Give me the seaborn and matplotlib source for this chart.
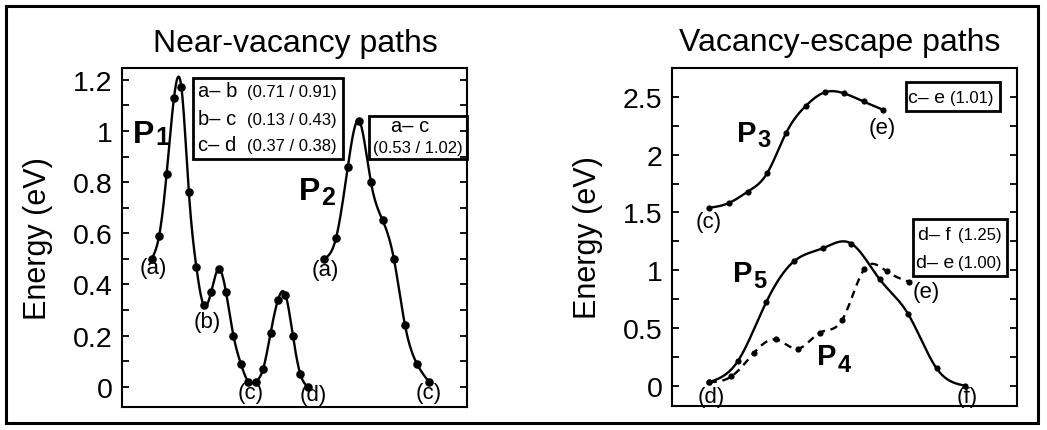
import numpy as np
import pandas as pd
import matplotlib
matplotlib.use("Agg")
import matplotlib.pyplot as plt
import seaborn as sns
from matplotlib.patches import Rectangle
from matplotlib.ticker import MultipleLocator

# ---------------- data ----------------
# Near-vacancy paths (reaction coordinate in image units)
p1_x = [0, 1, 2, 3, 4, 5, 6, 7, 8, 9, 10, 11, 12, 13, 14, 15, 16, 17, 18, 19, 20, 21]
p1_E = [0.50, 0.59, 0.83, 1.13, 1.17, 0.76, 0.47, 0.32, 0.37, 0.46, 0.37,
        0.20, 0.09, 0.02, 0.02, 0.07, 0.21, 0.34, 0.36, 0.20, 0.05, 0.00]
p2_x = [23.2, 24.8, 26.4, 27.9, 29.5, 31.1, 32.6, 34.1, 35.7, 37.3]
p2_E = [0.50, 0.58, 0.86, 1.04, 0.80, 0.65, 0.50, 0.24, 0.09, 0.02]

# Vacancy-escape paths
p3_x = [0, 0.68, 1.36, 2.04, 2.71, 3.39, 4.07, 4.75, 5.43, 6.10]
p3_E = [1.54, 1.58, 1.68, 1.84, 2.19, 2.42, 2.54, 2.53, 2.46, 2.39]
p5_x = [0, 1, 2, 3, 4, 5, 6, 7, 8, 9]
p5_E = [0.03, 0.21, 0.72, 1.08, 1.19, 1.23, 0.92, 0.62, 0.15, 0.00]
p4_x = [0, 0.78, 1.56, 2.34, 3.12, 3.90, 4.68, 5.46, 6.24, 7.02]
p4_E = [0.03, 0.08, 0.28, 0.40, 0.32, 0.46, 0.57, 1.01, 0.99, 0.90]

left_ticks = [0, 0.2, 0.4, 0.6, 0.8, 1.0, 1.2]
left_ticklabels = ["0", "0.2", "0.4", "0.6", "0.8", "1", "1.2"]
right_ticks = [0, 0.5, 1.0, 1.5, 2.0, 2.5]
right_ticklabels = ["0", "0.5", "1", "1.5", "2", "2.5"]

left_title = "Near-vacancy paths"
right_title = "Vacancy-escape paths"
ylabel = "Energy (eV)"

box1_pairs = ["a\u2013 b", "b\u2013 c", "c\u2013 d"]
box1_vals = ["(0.71 / 0.91)", "(0.13 / 0.43)", "(0.37 / 0.38)"]
box2_pair = "a\u2013 c"
box2_val = "(0.53 / 1.02)"
box3_pair = "c\u2013 e"
box3_val = "(1.01)"
box4_pairs = ["d\u2013 f", "d\u2013 e"]
box4_vals = ["(1.25)", "(1.00)"]

# ---------------- style ----------------
sns.set_theme(style="white")
plt.rcParams["font.family"] = ["Liberation Sans", "DejaVu Sans"]
plt.rcParams["axes.linewidth"] = 1.5


def smooth(x, y, n=400):
    """Natural cubic spline through the points, for drawing a smooth line."""
    x = np.asarray(x, float)
    y = np.asarray(y, float)
    m = len(x)
    h = np.diff(x)
    A = np.zeros((m, m))
    r = np.zeros(m)
    A[0, 0] = 1
    A[-1, -1] = 1
    for i in range(1, m - 1):
        A[i, i - 1] = h[i - 1]
        A[i, i] = 2 * (h[i - 1] + h[i])
        A[i, i + 1] = h[i]
        r[i] = 6 * ((y[i + 1] - y[i]) / h[i] - (y[i] - y[i - 1]) / h[i - 1])
    M = np.linalg.solve(A, r)
    xf = np.linspace(x[0], x[-1], n)
    idx = np.clip(np.searchsorted(x, xf) - 1, 0, m - 2)
    x0, x1 = x[idx], x[idx + 1]
    hh = x1 - x0
    yf = (M[idx] * (x1 - xf) ** 3 / (6 * hh) + M[idx + 1] * (xf - x0) ** 3 / (6 * hh)
          + (y[idx] / hh - M[idx] * hh / 6) * (x1 - xf)
          + (y[idx + 1] / hh - M[idx + 1] * hh / 6) * (xf - x0))
    return xf, yf


def draw_path(ax, x, y, size, dashed=False):
    xf, yf = smooth(x, y)
    ls = (0, (3.2, 2.4)) if dashed else "-"
    sns.lineplot(x=xf, y=yf, ax=ax, color="black", linewidth=1.7,
                 linestyle=ls, estimator=None, sort=False)
    sns.scatterplot(x=x, y=y, ax=ax, color="black", s=size, linewidth=0, zorder=3)


def style_axes(ax, ticks, labels, minor):
    ax.set_yticks(ticks)
    ax.set_yticklabels(labels)
    ax.yaxis.set_minor_locator(MultipleLocator(minor))
    ax.set_xticks([])
    ax.tick_params(axis="y", which="both", direction="in", left=True, right=True,
                   length=5, width=1.3, color="black", labelsize=20.5, pad=7,
                   labelcolor="black")
    for s in ax.spines.values():
        s.set_color("black")
        s.set_linewidth(1.5)
    ax.set_xlabel("")
    ax.set_ylabel(ylabel, fontsize=22, color="black", labelpad=14)


def label(ax, x, y, t, fs=16):
    ax.text(x, y, t, ha="center", va="center", fontsize=fs, color="black")


def pname(ax, x, y, xs, ys, digit, fs, fs2):
    ax.text(x, y, "P", fontsize=fs, fontweight="bold", ha="left", va="baseline", color="black")
    ax.text(xs, ys, digit, fontsize=fs2, fontweight="bold", ha="left", va="baseline", color="black")


def box(ax, x0, y0, x1, y1):
    ax.add_patch(Rectangle((x0, y0), x1 - x0, y1 - y0, transform=ax.transAxes,
                           fill=False, lw=2.0, ec="black", clip_on=False, zorder=5))


W, H = 1047, 431
fig = plt.figure(figsize=(W / 100, H / 100), dpi=100)
fig.patch.set_facecolor("white")

axL = fig.add_axes([122 / W, (H - 408) / H, 345 / W, 339 / H])
axR = fig.add_axes([672 / W, (H - 407) / H, 345 / W, 338 / H])

# ---------------- left panel ----------------
draw_path(axL, p1_x, p1_E, 38)
draw_path(axL, p2_x, p2_E, 38)
axL.set_xlim(-4.0, 42.44)
axL.set_ylim(-0.079, 1.246)
style_axes(axL, left_ticks, left_ticklabels, 0.1)

label(axL, 0.17, 0.467, "(a)")
label(axL, 7.44, 0.257, "(b)")
label(axL, 13.36, -0.021, "(c)")
label(axL, 21.7, -0.032, "(d)")
label(axL, 23.33, 0.46, "(a)")
label(axL, 37.3, -0.021, "(c)")
pname(axL, -2.52, 0.957, 0.55, 0.949, "1", 23, 18)
pname(axL, 19.83, 0.734, 22.75, 0.714, "2", 23, 18)

box(axL, 0.206, 0.7316, 0.641, 0.9705)
for yb, pr, vl in zip([0.918, 0.835, 0.759], box1_pairs, box1_vals):
    axL.text(0.2203, yb, pr, transform=axL.transAxes, fontsize=14.5, ha="left", va="baseline", color="black")
    axL.text(0.3623, yb, vl, transform=axL.transAxes, fontsize=12, ha="left", va="baseline", color="black")
box(axL, 0.716, 0.7316, 1.0, 0.858)
axL.text(0.835, 0.815, box2_pair, transform=axL.transAxes, fontsize=14.5, ha="center", va="baseline", color="black")
axL.text(0.858, 0.751, box2_val, transform=axL.transAxes, fontsize=12, ha="center", va="baseline", color="black")

# ---------------- right panel ----------------
draw_path(axR, p3_x, p3_E, 20)
draw_path(axR, p5_x, p5_E, 20)
draw_path(axR, p4_x, p4_E, 20, dashed=True)
axR.set_xlim(-1.31, 10.83)
axR.set_ylim(-0.176, 2.75)
style_axes(axR, right_ticks, right_ticklabels, 0.25)

label(axR, -0.01, 1.42, "(c)")
label(axR, 6.08, 2.237, "(e)")
label(axR, 0.06, -0.098, "(d)")
label(axR, 9.07, -0.098, "(f)")
label(axR, 7.63, 0.819, "(e)")
pname(axR, 0.97, 2.117, 1.68, 2.074, "3", 21, 17)
pname(axR, 0.83, 0.906, 1.56, 0.854, "5", 21, 17)
pname(axR, 3.79, 0.188, 4.52, 0.127, "4", 21, 17)

box(axR, 0.678, 0.873, 0.951, 0.9586)
axR.text(0.684, 0.899, box3_pair, transform=axR.transAxes, fontsize=14, ha="left", va="baseline", color="black")
axR.text(0.806, 0.899, box3_val, transform=axR.transAxes, fontsize=12, ha="left", va="baseline", color="black")
box(axR, 0.699, 0.385, 0.971, 0.553)
for yb, xp, xv, pr, vl in zip([0.494, 0.411], [0.712, 0.706], [0.830, 0.828], box4_pairs, box4_vals):
    axR.text(xp, yb, pr, transform=axR.transAxes, fontsize=14, ha="left", va="baseline", color="black")
    axR.text(xv, yb, vl, transform=axR.transAxes, fontsize=12, ha="left", va="baseline", color="black")

# ---------------- titles & border ----------------
fig.text(295 / W, (H - 52) / H, left_title, fontsize=23, ha="center", va="baseline", color="black")
fig.text(840 / W, (H - 51) / H, right_title, fontsize=23, ha="center", va="baseline", color="black")
fig.add_artist(Rectangle((6 / W, 7 / H), (1038 - 6) / W, (424 - 7) / H,
                         transform=fig.transFigure, fill=False, lw=2.2, ec="black"))

fig.savefig("out.png", dpi=100, facecolor="white")
